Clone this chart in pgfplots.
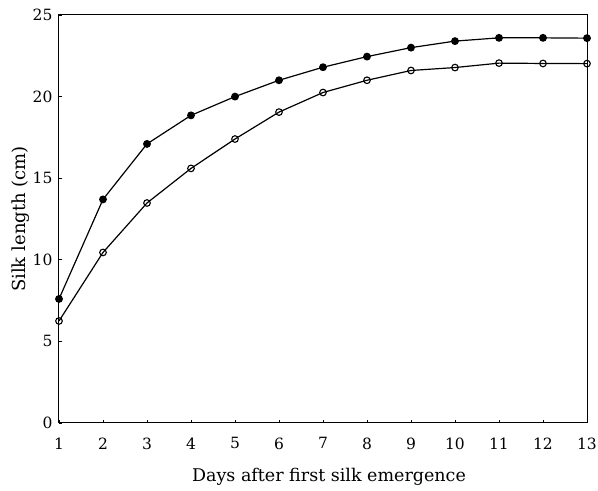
\documentclass[border=0pt]{standalone}
\usepackage{pgfplots}
\pgfplotsset{compat=1.18}
\usepackage{fontspec}
\setmainfont{DejaVu Serif}
\begin{document}
\begin{tikzpicture}[x=1pt,y=1pt]
\begin{axis}[
  name=ax,
  at={(0,0)}, anchor=south west,
  width=528pt, height=408pt, scale only axis,
  xmin=1, xmax=13, ymin=0, ymax=25,
  xtick={1,...,13}, ytick={0,5,10,15,20,25},
  tick align=inside, major tick length=3pt,
  xtick pos=bottom, ytick pos=left,
  axis line style={line width=1pt},
  tick style={line width=0.8pt, black},
  ticklabel style={font=\fontsize{15.5}{18}\selectfont},
  xticklabel style={yshift=-11pt},
  yticklabel style={xshift=-3pt},
  /pgf/number format/assume math mode=true,
  xlabel={Days after first silk emergence},
  ylabel={Silk length (cm)},
  xlabel style={font=\fontsize{17.5}{20}\selectfont, yshift=-12pt, xshift=6pt},
  ylabel style={font=\fontsize{18}{20}\selectfont, yshift=-4pt},
  clip=false,
]
\addplot[black, line width=1.2pt, mark=*, mark size=3.3pt, mark options={fill=black}]
coordinates {(1,7.6)(2,13.7)(3,17.1)(4,18.85)(5,20.0)(6,21.0)(7,21.8)(8,22.45)(9,23.0)(10,23.4)(11,23.6)(12,23.6)(13,23.58)};
\addplot[black, line width=1.2pt, mark=o, mark size=3.3pt, mark options={fill=white, line width=1.1pt}]
coordinates {(1,6.25)(2,10.45)(3,13.48)(4,15.6)(5,17.4)(6,19.05)(7,20.25)(8,21.0)(9,21.6)(10,21.78)(11,22.05)(12,22.03)(13,22.02)};
\end{axis}
\pgfresetboundingbox
\path (ax.south west) ++(-59pt,-68pt) coordinate (bbA);
\path (ax.north east) ++(11pt,15pt) coordinate (bbB);
\path[use as bounding box] (bbA) rectangle (bbB);
\end{tikzpicture}
\end{document}
